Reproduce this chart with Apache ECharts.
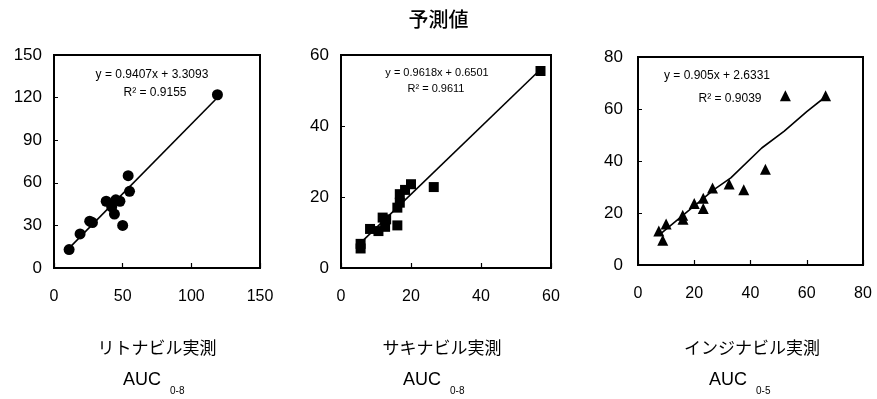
<!DOCTYPE html>
<html>
<head>
<meta charset="utf-8">
<script src="https://cdn.jsdelivr.net/npm/echarts@6/dist/echarts.min.js"></script>
<style>
  html, body { margin: 0; padding: 0; background: #fff; }
  #chart { width: 877px; height: 399px; }
</style>
</head>
<body>
<div id="chart"></div>
<script>
// リトナビル (AUC 0-8): [実測, 予測]
const ritonavir = [
  [11, 13], [19, 24], [26, 33], [28, 32], [38, 47], [42, 43], [44, 38],
  [45, 48], [48, 47], [50, 30], [54, 65], [55, 54], [119, 122]
]
const ritonavirTrend = [[11, 14], [118, 119]]

// サキナビル (AUC 0-8)
const saquinavir = [
  [5.6, 5.5], [5.6, 6.8], [8.3, 11], [10.7, 10.4], [11.9, 14.2], [12.6, 11.6],
  [12.9, 13.7], [16.1, 12], [16.1, 17], [16.8, 18.4], [16.8, 20.8], [18.3, 22],
  [20, 23.6], [26.5, 22.8], [57, 55.5]
]
const saquinavirTrend = [[5, 6.5], [56, 55]]

// インジナビル (AUC 0-5)
const indinavir = [
  [7.4, 13.1], [8.8, 9.5], [10, 15.8], [15.9, 19.1], [16, 17.6], [20, 23.7],
  [23.2, 21.7], [23.2, 25.7], [26.5, 29.6], [32.4, 31.2], [37.6, 28.9],
  [45.3, 36.8], [52.4, 65.1], [66.7, 65.1]
]
const indinavirTrend = [[8, 12], [27, 29], [33, 33.5], [44, 45], [52, 51.5], [60, 59], [67, 65]]

const xMax = [150, 60, 80]
const xStep = [50, 20, 20]
const yMax = [150, 60, 80]
const yStep = [30, 20, 20]

const equations = ['y = 0.9407x + 3.3093', 'y = 0.9618x + 0.6501', 'y = 0.905x + 2.6331']
const rSquared = ['R² = 0.9155', 'R² = 0.9611', 'R² = 0.9039']
const drugNames = ['リトナビル実測', 'サキナビル実測', 'インジナビル実測']
const aucRanges = ['0-8', '0-8', '0-5']

const FONT = 'Liberation Sans, Arial, sans-serif'
const CJK = '"Noto Sans CJK JP", sans-serif'

const grids = [
  { left: 54, top: 55, width: 206, height: 213 },
  { left: 341, top: 55, width: 210, height: 213 },
  { left: 638, top: 57, width: 225, height: 208 },
]

const xAxes = grids.map((g, i) => ({
  type: 'value', gridIndex: i, min: 0, max: xMax[i], interval: xStep[i],
  axisLine: { show: false },
  axisTick: { show: true, inside: true, length: 5, lineStyle: { color: '#000', width: 1.2 } },
  splitLine: { show: false },
  axisLabel: { color: '#000', fontSize: 16, fontFamily: FONT, margin: 21,
    showMinLabel: true, showMaxLabel: true },
}))
const yAxes = grids.map((g, i) => ({
  type: 'value', gridIndex: i, min: 0, max: yMax[i], interval: yStep[i],
  axisLine: { show: false },
  axisTick: { show: true, inside: true, length: 4, lineStyle: { color: '#000', width: 1 } },
  splitLine: { show: false },
  axisLabel: { color: '#000', fontSize: 17, fontFamily: FONT, margin: i === 2 ? 15 : 12,
    showMinLabel: true, showMaxLabel: true },
}))

const pts = [ritonavir, saquinavir, indinavir]
const trends = [ritonavirTrend, saquinavirTrend, indinavirTrend]
const shapes = ['circle', 'rect', 'triangle']
const sizes = [11, 10, 11]

const series = []
pts.forEach((d, i) => {
  series.push({
    type: 'line', xAxisIndex: i, yAxisIndex: i, data: trends[i],
    symbol: 'none', smooth: false, silent: true,
    lineStyle: { color: '#000', width: 1.6 }, z: 2,
  })
  series.push({
    type: 'scatter', xAxisIndex: i, yAxisIndex: i, data: d,
    symbol: shapes[i], symbolSize: sizes[i],
    itemStyle: { color: '#000', opacity: 1 }, z: 3,
  })
})

const eqPos = [[152, 75, 155, 93], [437, 73, 436, 89], [717, 76, 730, 99]]
const eqSize = [12, 11, 12]
const labelX = [157, 442, 752]
const aucX = [142, 422, 728]

const graphic = [{
  type: 'text', left: 'center', top: 9,
  style: { text: '予測値', font: '500 20px ' + CJK, fill: '#000' },
}]
eqPos.forEach((p, i) => {
  graphic.push({ type: 'text', x: p[0], y: p[1],
    style: { text: equations[i], fontSize: eqSize[i], fontFamily: FONT, fill: '#000', align: 'center', verticalAlign: 'middle' } })
  graphic.push({ type: 'text', x: p[2], y: p[3],
    style: { text: rSquared[i], fontSize: eqSize[i], fontFamily: FONT, fill: '#000', align: 'center', verticalAlign: 'middle' } })
  graphic.push({ type: 'text', x: labelX[i], y: 348,
    style: { text: drugNames[i], fontSize: 17, fontFamily: CJK, fill: '#000', align: 'center', verticalAlign: 'middle' } })
  graphic.push({ type: 'text', x: aucX[i], y: 380,
    style: { text: 'AUC', fontSize: 18, fontFamily: FONT, fill: '#000', align: 'center', verticalAlign: 'middle' } })
  graphic.push({ type: 'text', x: aucX[i] + 28, y: 391,
    style: { text: aucRanges[i], fontSize: 10, fontFamily: FONT, fill: '#000', align: 'left', verticalAlign: 'middle' } })
})

const chart = echarts.init(document.getElementById('chart'))
chart.setOption({
  animation: false,
  backgroundColor: '#fff',
  grid: grids.map((g) => Object.assign({ show: true, borderColor: '#000', borderWidth: 2, backgroundColor: 'transparent' }, g)),
  xAxis: xAxes,
  yAxis: yAxes,
  series: series,
  graphic: graphic,
})
</script>
</body>
</html>
